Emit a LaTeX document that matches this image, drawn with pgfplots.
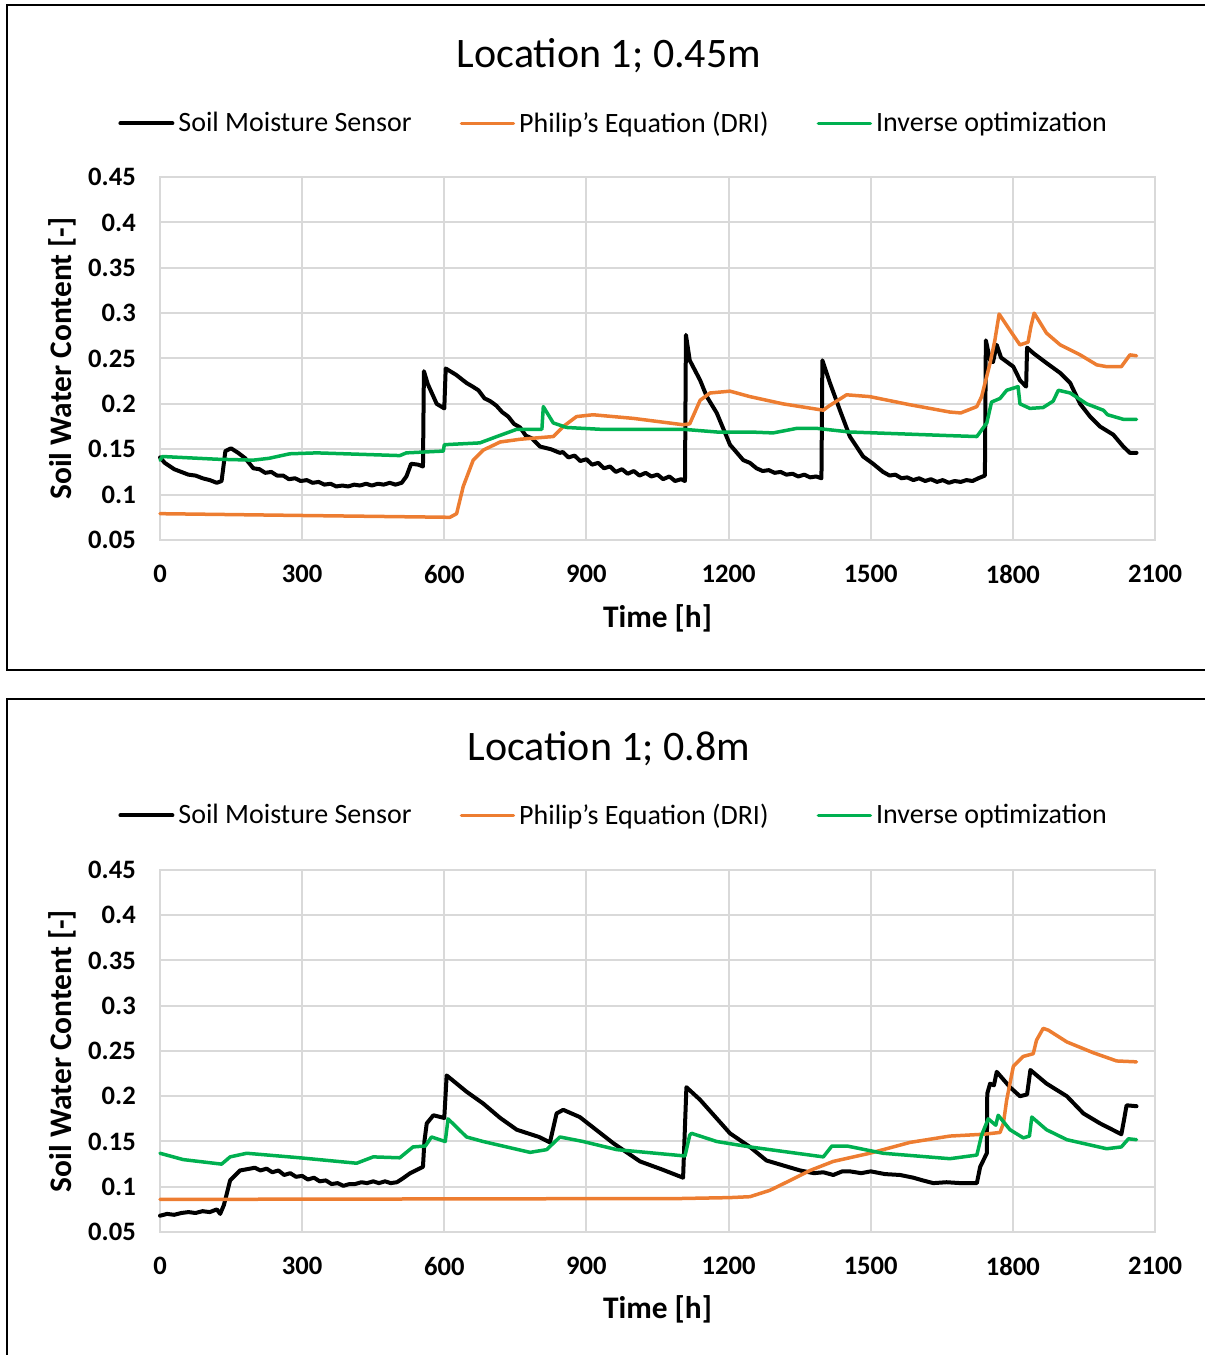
\documentclass[border=0pt]{standalone}
\usepackage{fontspec}
\setmainfont{Carlito}
\usepackage{pgfplots}
\pgfplotsset{compat=1.18}
\definecolor{xlorange}{HTML}{ED7D31}
\definecolor{xlgreen}{HTML}{00B050}
\definecolor{xlgrid}{HTML}{D9D9D9}
\pgfplotsset{
  myaxis/.style={
    scale only axis, width=497.5pt,
    xmin=0, xmax=2100, ymin=0.05, ymax=0.45,
    xtick={0,300,600,900,1200,1500,1800,2100},
    xticklabels={0,300,600,900,1200,1500,1800,2100},
    ytick={0.05,0.1,0.15,0.2,0.25,0.3,0.35,0.4,0.45},
    yticklabels={0.05,0.1,0.15,0.2,0.25,0.3,0.35,0.4,0.45},
    major tick length=0pt,
    grid=major, major grid style={draw=xlgrid, line width=1pt},
    axis line style={draw=xlgrid, line width=1pt},
    ticklabel style={font=\bfseries\fontsize{13.3}{16}\selectfont},
    xticklabel style={yshift=-9pt},
    yticklabel style={xshift=-8.6pt},
    xlabel={Time [h]}, ylabel={Soil Water Content [-]},
    label style={font=\bfseries\fontsize{15.7}{19}\selectfont},
    xlabel style={at={(axis description cs:0.5,-0.2149)}, anchor=center},
    ylabel style={at={(axis description cs:-0.0985,0.5)}, anchor=center},
    title style={font=\fontsize{21}{25}\selectfont, anchor=center},
    legend columns=3,
    legend image code/.code={\draw[#1] (0pt,0pt) -- (26pt,0pt);},
    legend style={draw=none, fill=none, anchor=west, inner sep=0pt,
      font=\fontsize{14}{17}\selectfont,
      /tikz/every even column/.append style={column sep=22pt}},
    every axis plot/.append style={line join=round, line cap=round},
    clip=false,
  },
  sensor/.style={black, line width=2pt},
  philip/.style={xlorange, line width=1.75pt},
  inverse/.style={xlgreen, line width=1.75pt},
}
\begin{document}
\begin{tikzpicture}
\useasboundingbox (0,0) rectangle (602.5pt,677.5pt);
\draw[line width=1pt] (620pt,675pt) -- (3.5pt,675pt) -- (3.5pt,342.5pt) -- (620pt,342.5pt);
\draw[line width=1pt] (620pt,328pt) -- (3.5pt,328pt) -- (3.5pt,-10pt);
% ---------------- top panel ----------------
\begin{axis}[myaxis, height=181.5pt, at={(80pt,407.5pt)}, anchor=south west,
  title={Location 1; 0.45m},
  title style={at={(axis description cs:0.4513,1.300)}},
  legend style={at={(axis description cs:-0.0422,1.1475)}}]
\addplot[sensor] coordinates {
(0,0.141)(10,0.135)(30,0.128)(45,0.125)(60,0.122)(75,0.121)(90,0.118)(105,0.116)(120,0.113)(130,0.115)(138,0.148)(150,0.151)(165,0.146)(180,0.140)(197,0.129)
(210,0.128)(222,0.124)(235,0.125)(247,0.121)(260,0.121)(272,0.117)(285,0.118)(297,0.115)(310,0.116)(322,0.113)(335,0.114)(347,0.111)(360,0.112)(372,0.109)(385,0.110)(397,0.109)(410,0.111)(422,0.110)(435,0.112)(447,0.110)(460,0.112)(472,0.111)(485,0.113)(497,0.111)(510,0.113)
(520,0.120)(530,0.134)(545,0.133)(555,0.131)(557,0.236)(565,0.222)(584,0.200)(600,0.195)(603,0.239)(625,0.232)(647,0.223)(660,0.219)(672,0.215)(685,0.206)(697,0.203)(710,0.198)(722,0.191)(735,0.186)(747,0.178)(760,0.174)(772,0.165)(785,0.162)(802,0.153)(825,0.150)(844,0.146)
(850,0.147)(862,0.141)(875,0.143)(887,0.137)(900,0.139)(912,0.133)(925,0.135)(937,0.129)(950,0.131)(962,0.125)(975,0.128)(987,0.123)(1000,0.126)(1012,0.121)(1025,0.124)(1037,0.120)(1050,0.122)(1062,0.117)(1075,0.120)(1087,0.115)(1100,0.117)(1108,0.115)
(1110,0.276)(1118,0.248)(1140,0.226)(1154,0.208)(1175,0.190)(1203,0.155)(1231,0.138)(1245,0.135)
(1259,0.129)(1272,0.126)(1285,0.127)(1297,0.124)(1310,0.125)(1322,0.122)(1335,0.123)(1347,0.120)(1360,0.122)(1372,0.119)(1385,0.120)(1396,0.118)
(1398,0.248)(1414,0.223)(1435,0.193)(1456,0.164)(1484,0.142)(1505,0.134)
(1526,0.125)(1540,0.121)(1552,0.122)(1565,0.118)(1577,0.119)(1590,0.116)(1602,0.118)(1615,0.115)(1627,0.117)(1640,0.114)(1652,0.116)(1665,0.113)(1677,0.115)(1690,0.114)(1702,0.116)(1715,0.115)(1727,0.118)(1741,0.121)
(1743,0.270)(1752,0.248)(1758,0.246)(1766,0.265)(1775,0.251)(1801,0.241)(1815,0.226)(1828,0.219)(1830,0.262)(1843,0.256)(1871,0.245)(1900,0.234)(1921,0.223)(1942,0.200)(1963,0.186)(1984,0.175)(2012,0.166)(2033,0.153)(2047,0.146)(2061,0.146)
};
\addlegendentry{Soil Moisture Sensor}
\addplot[philip] coordinates {
(0,0.079)(300,0.077)(612,0.075)(626,0.079)(640,0.109)(661,0.138)(682,0.149)(718,0.158)(760,0.161)(830,0.164)(851,0.175)(879,0.186)(914,0.188)(999,0.184)(1104,0.177)(1118,0.178)(1140,0.204)(1161,0.212)(1203,0.214)(1245,0.208)(1315,0.200)(1400,0.193)(1410,0.197)(1449,0.210)(1498,0.208)(1583,0.199)(1667,0.191)(1690,0.190)(1724,0.197)(1734,0.208)(1752,0.245)(1762,0.270)(1771,0.299)(1794,0.281)(1815,0.265)(1832,0.268)(1838,0.285)(1845,0.300)(1871,0.278)(1900,0.265)(1942,0.254)(1977,0.243)(1998,0.241)(2029,0.241)(2047,0.254)(2061,0.253)
};
\addlegendentry{Philip\symbol{39}s Equation (DRI)}
\addplot[inverse] coordinates {
(0,0.138)(5,0.142)(120,0.139)(197,0.138)(230,0.140)(274,0.145)(331,0.146)(506,0.143)(520,0.146)(598,0.148)(600,0.155)(675,0.157)(711,0.164)(753,0.172)(802,0.172)(806,0.172)(809,0.197)(830,0.179)(858,0.174)(929,0.172)(1104,0.172)(1175,0.169)(1245,0.169)(1294,0.168)(1344,0.173)(1386,0.173)(1456,0.169)(1667,0.165)(1724,0.164)(1745,0.179)(1755,0.202)(1773,0.206)(1787,0.215)(1811,0.219)(1815,0.200)(1836,0.195)(1864,0.196)(1885,0.203)(1896,0.215)(1921,0.212)(1956,0.200)(1991,0.193)(2000,0.188)(2033,0.183)(2061,0.183)
};
\addlegendentry{Inverse optimization}
\end{axis}
% ---------------- bottom panel ----------------
\begin{axis}[myaxis, height=181pt, at={(80pt,61.5pt)}, anchor=south west,
  title={Location 1; 0.8m},
  title style={at={(axis description cs:0.4513,1.303)}},
  legend style={at={(axis description cs:-0.0422,1.1507)}}]
\addplot[sensor] coordinates {
(0,0.068)(15,0.070)(30,0.069)(45,0.071)(60,0.072)(75,0.071)(90,0.073)(105,0.072)(120,0.075)(127,0.070)(135,0.080)(148,0.107)(169,0.118)(190,0.120)
(200,0.121)(212,0.118)(225,0.120)(237,0.116)(250,0.118)(262,0.113)(275,0.115)(287,0.111)(300,0.112)(312,0.108)(325,0.110)(337,0.106)(350,0.107)(362,0.103)(375,0.104)(387,0.101)(400,0.103)(412,0.103)(425,0.105)(437,0.104)(450,0.106)(462,0.104)(475,0.106)(487,0.104)(500,0.105)(512,0.109)
(528,0.115)(555,0.122)(558,0.150)(563,0.170)(577,0.179)(600,0.176)(605,0.223)(647,0.205)(682,0.192)(718,0.176)(753,0.163)(800,0.155)(823,0.149)(837,0.181)(851,0.185)(886,0.177)(957,0.148)(1013,0.128)(1060,0.119)(1104,0.110)(1111,0.210)(1140,0.196)(1203,0.159)(1245,0.144)(1280,0.129)
(1351,0.118)(1380,0.115)(1400,0.116)(1421,0.113)(1440,0.117)(1456,0.117)(1480,0.115)(1500,0.117)(1530,0.114)(1562,0.113)(1590,0.110)(1610,0.107)(1632,0.104)(1660,0.105)(1690,0.104)(1724,0.104)
(1731,0.122)(1745,0.137)(1746,0.203)(1752,0.214)(1760,0.212)(1766,0.227)(1794,0.210)(1815,0.200)(1830,0.202)(1837,0.229)(1871,0.214)(1914,0.200)(1949,0.181)(1984,0.170)(2029,0.158)(2035,0.175)(2040,0.190)(2061,0.189)
};
\addlegendentry{Soil Moisture Sensor}
\addplot[philip] coordinates {
(0,0.086)(1100,0.087)(1203,0.088)(1245,0.089)(1287,0.096)(1330,0.107)(1372,0.118)(1421,0.128)(1498,0.137)(1583,0.149)(1667,0.156)(1738,0.158)(1773,0.160)(1780,0.170)(1787,0.196)(1801,0.233)(1822,0.244)(1843,0.247)(1850,0.262)(1864,0.275)(1875,0.273)(1914,0.260)(1970,0.248)(2019,0.239)(2061,0.238)
};
\addlegendentry{Philip\symbol{39}s Equation (DRI)}
\addplot[inverse] coordinates {
(0,0.137)(49,0.130)(130,0.125)(148,0.133)(183,0.137)(295,0.132)(415,0.126)(450,0.133)(506,0.132)(534,0.144)(560,0.145)(573,0.155)(602,0.150)(608,0.175)(647,0.155)(682,0.150)(781,0.138)(816,0.141)(844,0.155)(893,0.150)(964,0.141)(1108,0.134)(1118,0.157)(1122,0.159)(1175,0.150)(1245,0.144)(1400,0.133)(1418,0.145)(1450,0.145)(1526,0.137)(1667,0.131)(1724,0.135)(1734,0.157)(1748,0.175)(1764,0.168)(1769,0.179)(1794,0.163)(1822,0.154)(1835,0.156)(1840,0.177)(1871,0.163)(1914,0.152)(1998,0.142)(2029,0.144)(2044,0.153)(2061,0.152)
};
\addlegendentry{Inverse optimization}
\end{axis}
\end{tikzpicture}
\end{document}
